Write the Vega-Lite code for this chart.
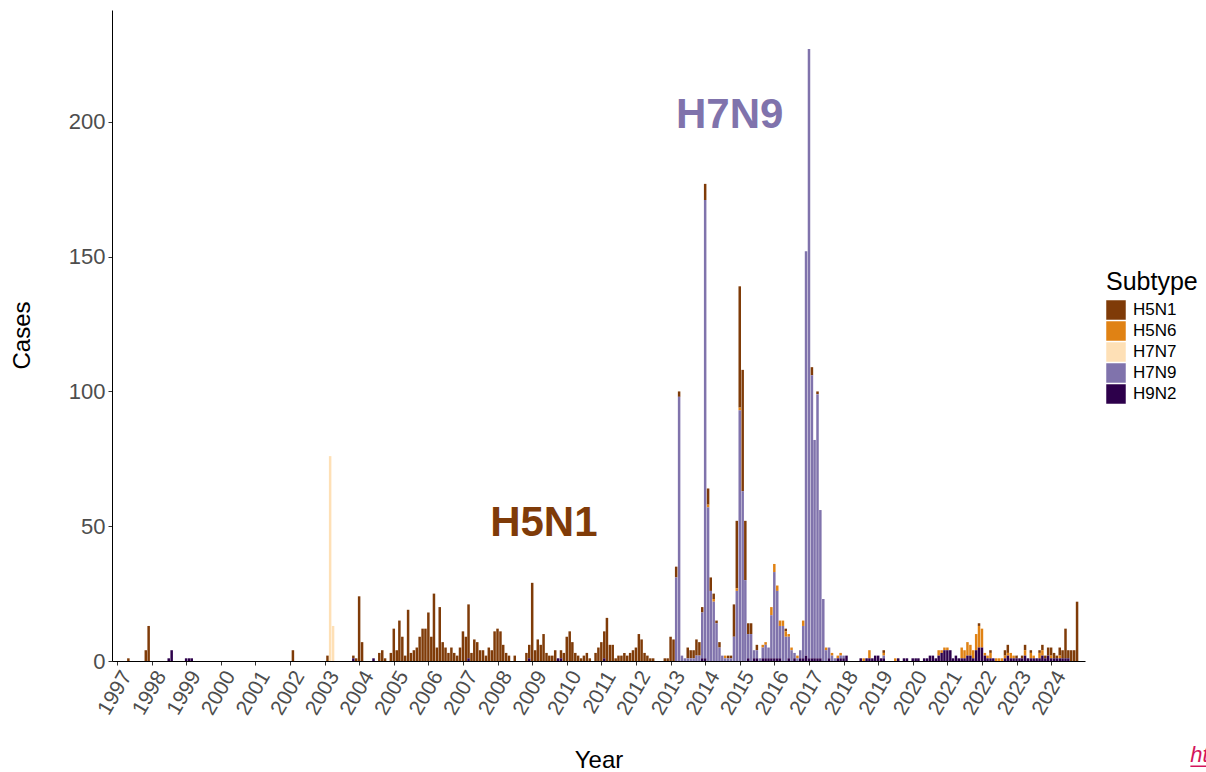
{
"$schema": "https://vega.github.io/schema/vega-lite/v6.json",
"width": 973, "height": 651,
"autosize": {"type": "none"},
"padding": {"left": 112, "top": 10, "right": 121, "bottom": 111},
"background": "white",
"config": {"font": "Liberation Sans", "view": {"stroke": null},
  "axis": {"grid": false, "domainColor": "black", "domainWidth": 1, "tickColor": "#333333", "tickSize": 4, "labelColor": "#4d4d4d", "labelFontSize": 21, "titleFontSize": 24, "titleFontWeight": "normal", "titleColor": "black", "labelFont": "Liberation Sans", "titleFont": "Liberation Sans"}},
"datasets": {
 "monthly": [
  {"m":"1997-05-01","H5N1":1},{"m":"1997-11-01","H5N1":4},{"m":"1997-12-01","H5N1":13},
  {"m":"1998-07-01","H9N2":1},{"m":"1998-08-01","H9N2":4},
  {"m":"1999-01-01","H9N2":1},{"m":"1999-02-01","H9N2":1},{"m":"1999-03-01","H9N2":1},
  {"m":"2002-02-01","H5N1":4},
  {"m":"2003-02-01","H5N1":2},{"m":"2003-03-01","H7N7":76},{"m":"2003-04-01","H7N7":13},{"m":"2003-11-01","H9N2":1,"H5N1":1},{"m":"2003-12-01","H5N1":1},
  {"m":"2004-01-01","H5N1":24},{"m":"2004-02-01","H5N1":7},{"m":"2004-06-01","H9N2":1},{"m":"2004-08-01","H5N1":3},{"m":"2004-09-01","H5N1":4},{"m":"2004-10-01","H5N1":1},{"m":"2004-12-01","H5N1":3},
  {"m":"2005-01-01","H5N1":12},{"m":"2005-02-01","H5N1":4},{"m":"2005-03-01","H5N1":15},{"m":"2005-04-01","H5N1":9},{"m":"2005-05-01","H5N1":2},{"m":"2005-06-01","H5N1":19},{"m":"2005-07-01","H5N1":3},{"m":"2005-08-01","H5N1":4},{"m":"2005-09-01","H5N1":5},{"m":"2005-10-01","H5N1":9},{"m":"2005-11-01","H5N1":12},{"m":"2005-12-01","H5N1":12},
  {"m":"2006-01-01","H5N1":18},{"m":"2006-02-01","H5N1":9},{"m":"2006-03-01","H5N1":25},{"m":"2006-04-01","H5N1":5},{"m":"2006-05-01","H5N1":20},{"m":"2006-06-01","H5N1":7},{"m":"2006-07-01","H5N1":5},{"m":"2006-08-01","H5N1":3},{"m":"2006-09-01","H5N1":5},{"m":"2006-10-01","H5N1":3},{"m":"2006-11-01","H5N1":2},{"m":"2006-12-01","H5N1":5},
  {"m":"2007-01-01","H5N1":11},{"m":"2007-02-01","H5N1":9},{"m":"2007-03-01","H5N1":20,"H9N2":1},{"m":"2007-04-01","H5N1":3},{"m":"2007-05-01","H5N1":8},{"m":"2007-06-01","H5N1":7},{"m":"2007-07-01","H5N1":4},{"m":"2007-08-01","H5N1":4},{"m":"2007-09-01","H5N1":2},{"m":"2007-10-01","H5N1":5},{"m":"2007-11-01","H5N1":4},{"m":"2007-12-01","H5N1":11},
  {"m":"2008-01-01","H5N1":12},{"m":"2008-02-01","H5N1":11},{"m":"2008-03-01","H5N1":6},{"m":"2008-04-01","H5N1":3},{"m":"2008-05-01","H5N1":2},{"m":"2008-07-01","H5N1":2},{"m":"2008-11-01","H5N1":3},{"m":"2008-12-01","H5N1":5,"H9N2":1},
  {"m":"2009-01-01","H5N1":29},{"m":"2009-02-01","H5N1":4},{"m":"2009-03-01","H5N1":8},{"m":"2009-04-01","H5N1":6},{"m":"2009-05-01","H5N1":10},{"m":"2009-06-01","H5N1":3},{"m":"2009-07-01","H5N1":2},{"m":"2009-08-01","H5N1":2},{"m":"2009-09-01","H5N1":4},{"m":"2009-10-01","H9N2":1},{"m":"2009-11-01","H5N1":3,"H9N2":1},{"m":"2009-12-01","H5N1":3},
  {"m":"2010-01-01","H5N1":9},{"m":"2010-02-01","H5N1":11},{"m":"2010-03-01","H5N1":7},{"m":"2010-04-01","H5N1":3},{"m":"2010-05-01","H5N1":2},{"m":"2010-06-01","H5N1":1},{"m":"2010-07-01","H5N1":2},{"m":"2010-08-01","H5N1":3},{"m":"2010-09-01","H5N1":1},{"m":"2010-11-01","H5N1":3},{"m":"2010-12-01","H5N1":5},
  {"m":"2011-01-01","H5N1":7},{"m":"2011-02-01","H5N1":10,"H9N2":1},{"m":"2011-03-01","H5N1":16},{"m":"2011-04-01","H5N1":6},{"m":"2011-05-01","H5N1":6},{"m":"2011-06-01","H5N1":1},{"m":"2011-07-01","H5N1":2},{"m":"2011-08-01","H5N1":2},{"m":"2011-09-01","H5N1":3},{"m":"2011-10-01","H5N1":2},{"m":"2011-11-01","H5N1":3},{"m":"2011-12-01","H5N1":4},
  {"m":"2012-01-01","H5N1":5},{"m":"2012-02-01","H5N1":10},{"m":"2012-03-01","H5N1":8},{"m":"2012-04-01","H5N1":3},{"m":"2012-05-01","H5N1":2},{"m":"2012-06-01","H5N1":1},{"m":"2012-07-01","H5N1":1},{"m":"2012-11-01","H5N1":1},{"m":"2012-12-01","H5N1":1},
  {"m":"2013-01-01","H5N1":9},{"m":"2013-02-01","H5N1":8},{"m":"2013-03-01","H5N1":4,"H7N9":31},{"m":"2013-04-01","H5N1":2,"H7N9":98},{"m":"2013-05-01","H7N9":2},{"m":"2013-06-01","H7N9":1},{"m":"2013-07-01","H5N1":4,"H7N9":1},{"m":"2013-08-01","H5N1":3,"H7N9":1},{"m":"2013-09-01","H5N1":3,"H7N9":1},{"m":"2013-10-01","H5N1":6,"H7N9":2},{"m":"2013-11-01","H5N1":5,"H7N9":2},{"m":"2013-12-01","H5N1":2,"H7N9":17,"H9N2":1},
  {"m":"2014-01-01","H5N1":6,"H7N9":170,"H9N2":1},{"m":"2014-02-01","H5N1":6,"H5N6":1,"H7N9":57},{"m":"2014-03-01","H5N1":5,"H7N9":26},{"m":"2014-04-01","H5N1":2,"H5N6":1,"H7N9":22},{"m":"2014-05-01","H5N1":1,"H7N9":14},{"m":"2014-06-01","H5N1":2,"H7N9":5},{"m":"2014-07-01","H7N9":2},{"m":"2014-08-01","H5N6":1,"H7N9":1},{"m":"2014-09-01","H5N1":1,"H7N9":1},{"m":"2014-10-01","H5N1":1,"H7N9":1},{"m":"2014-11-01","H5N1":12,"H7N9":9},{"m":"2014-12-01","H5N1":25,"H5N6":1,"H7N9":26},
  {"m":"2015-01-01","H5N1":45,"H5N6":1,"H7N9":93},{"m":"2015-02-01","H5N1":45,"H7N9":63},{"m":"2015-03-01","H5N1":22,"H7N9":30},{"m":"2015-04-01","H5N1":4,"H7N9":9,"H9N2":1},{"m":"2015-05-01","H5N1":4,"H7N9":10},{"m":"2015-06-01","H7N9":3,"H9N2":1},{"m":"2015-07-01","H5N1":2,"H7N9":3,"H9N2":1},{"m":"2015-08-01","H7N9":1},{"m":"2015-09-01","H7N9":4,"H5N6":1,"H9N2":1},{"m":"2015-10-01","H7N9":5,"H5N6":1,"H9N2":1},{"m":"2015-11-01","H7N9":4,"H9N2":1},{"m":"2015-12-01","H7N9":16,"H5N6":3,"H9N2":1},
  {"m":"2016-01-01","H7N9":32,"H5N6":3,"H9N2":1},{"m":"2016-02-01","H7N9":25,"H5N6":2,"H9N2":1},{"m":"2016-03-01","H7N9":12,"H5N6":2,"H9N2":1},{"m":"2016-04-01","H7N9":13,"H5N6":2},{"m":"2016-05-01","H7N9":9,"H5N6":2,"H5N1":1},{"m":"2016-06-01","H7N9":8,"H5N6":1,"H9N2":1},{"m":"2016-07-01","H7N9":4,"H5N6":1},{"m":"2016-08-01","H7N9":2,"H9N2":1},{"m":"2016-09-01","H7N9":1,"H5N6":1},{"m":"2016-10-01","H7N9":3,"H9N2":1},{"m":"2016-11-01","H7N9":12,"H5N6":2,"H9N2":1},{"m":"2016-12-01","H7N9":150,"H9N2":2},
  {"m":"2017-01-01","H7N9":226,"H9N2":1},{"m":"2017-02-01","H5N1":3,"H7N9":105,"H9N2":1},{"m":"2017-03-01","H7N9":81,"H9N2":1},{"m":"2017-04-01","H5N1":1,"H7N9":98,"H9N2":1},{"m":"2017-05-01","H7N9":55,"H9N2":1},{"m":"2017-06-01","H7N9":23},{"m":"2017-07-01","H7N9":4,"H5N6":1},{"m":"2017-08-01","H7N9":4,"H9N2":1},{"m":"2017-09-01","H7N9":2,"H5N6":1},{"m":"2017-10-01","H7N9":1},{"m":"2017-11-01","H5N6":1,"H9N2":1},{"m":"2017-12-01","H7N9":1,"H5N6":1,"H9N2":1},
  {"m":"2018-01-01","H7N9":1,"H9N2":1},{"m":"2018-02-01","H9N2":2},{"m":"2018-07-01","H9N2":1},{"m":"2018-08-01","H5N6":1},{"m":"2018-09-01","H9N2":1},{"m":"2018-10-01","H5N6":3,"H9N2":1},{"m":"2018-11-01","H9N2":1},{"m":"2018-12-01","H9N2":2},
  {"m":"2019-01-01","H9N2":2},{"m":"2019-02-01","H9N2":1},{"m":"2019-03-01","H5N1":1,"H5N6":1,"H7N9":1,"H9N2":1},{"m":"2019-07-01","H5N6":1},{"m":"2019-08-01","H9N2":1},{"m":"2019-10-01","H9N2":1},{"m":"2019-11-01","H9N2":1},
  {"m":"2020-01-01","H9N2":1},{"m":"2020-02-01","H9N2":1},{"m":"2020-03-01","H9N2":1},{"m":"2020-05-01","H9N2":1},{"m":"2020-06-01","H9N2":1},{"m":"2020-07-01","H9N2":2},{"m":"2020-08-01","H9N2":2},{"m":"2020-09-01","H9N2":1},{"m":"2020-10-01","H9N2":2,"H5N6":2},{"m":"2020-11-01","H9N2":3,"H5N6":1},{"m":"2020-12-01","H9N2":4,"H5N6":1},
  {"m":"2021-01-01","H9N2":4,"H5N6":1},{"m":"2021-02-01","H9N2":4},{"m":"2021-03-01","H9N2":1},{"m":"2021-04-01","H9N2":2},{"m":"2021-05-01","H9N2":1},{"m":"2021-06-01","H9N2":1,"H5N6":4},{"m":"2021-07-01","H9N2":1,"H5N6":3},{"m":"2021-08-01","H9N2":2,"H5N6":5},{"m":"2021-09-01","H9N2":2,"H5N6":4},{"m":"2021-10-01","H9N2":1,"H5N6":3},{"m":"2021-11-01","H9N2":4,"H5N6":6},{"m":"2021-12-01","H9N2":5,"H5N6":8,"H5N1":1},
  {"m":"2022-01-01","H9N2":5,"H5N6":7},{"m":"2022-02-01","H9N2":2,"H5N6":1},{"m":"2022-03-01","H9N2":1,"H5N6":1},{"m":"2022-04-01","H9N2":1,"H5N6":2,"H5N1":1},{"m":"2022-05-01","H9N2":1},{"m":"2022-06-01","H5N6":1},{"m":"2022-07-01","H5N6":1},{"m":"2022-08-01","H5N6":1},{"m":"2022-09-01","H9N2":1,"H5N6":1,"H5N1":2},{"m":"2022-10-01","H9N2":2,"H5N6":1,"H5N1":3},{"m":"2022-11-01","H9N2":1,"H5N6":2},{"m":"2022-12-01","H9N2":1,"H5N6":1},
  {"m":"2023-01-01","H9N2":1,"H5N1":1},{"m":"2023-02-01","H9N2":1},{"m":"2023-03-01","H9N2":1,"H5N1":1},{"m":"2023-04-01","H9N2":2,"H5N6":2,"H5N1":2},{"m":"2023-05-01","H9N2":1},{"m":"2023-06-01","H9N2":1,"H5N6":2,"H5N1":1},{"m":"2023-07-01","H9N2":1,"H5N6":1},{"m":"2023-08-01","H9N2":1},{"m":"2023-09-01","H9N2":1,"H5N6":2,"H5N1":1},{"m":"2023-10-01","H9N2":2,"H5N6":2,"H5N1":2},{"m":"2023-11-01","H9N2":1,"H5N1":1},{"m":"2023-12-01","H9N2":2,"H5N1":3},
  {"m":"2024-01-01","H9N2":1,"H5N6":1,"H5N1":3},{"m":"2024-02-01","H9N2":1,"H5N1":2},{"m":"2024-03-01","H9N2":1,"H5N1":1},{"m":"2024-04-01","H9N2":1,"H5N6":1,"H5N1":3},{"m":"2024-05-01","H9N2":1,"H5N1":3},{"m":"2024-06-01","H9N2":1,"H5N1":11},{"m":"2024-07-01","H9N2":1,"H5N1":3},{"m":"2024-08-01","H5N1":4},{"m":"2024-09-01","H5N1":4},{"m":"2024-10-01","H5N1":22}
 ],
 "labels": [
  {"m":"2014-09-17","v":202.6,"subtype":"H7N9"},
  {"m":"2009-05-04","v":51.2,"subtype":"H5N1"}
 ],
 "link": [
  {"m":"2028-01-10","m2":"2029-06-01","v":-37.5,"v2":-39,"t":"https://www.who.int"}
 ]
},
"encoding": {
  "x": {"field": "m", "type": "temporal",
    "scale": {"type": "utc", "domain": [{"year": 1997, "month": 1, "date": 1, "utc": true}, {"year": 2024, "month": 11, "date": 1, "utc": true}]},
    "axis": {"title": "Year", "format": "%Y", "tickCount": {"interval": "year", "step": 1}, "labelAngle": -60, "labelAlign": "right", "labelBaseline": "top", "labelPadding": 2, "labelFlush": false, "labelOverlap": false, "labelBound": false, "titleY": 99, "titleBaseline": "middle"}},
  "y": {"type": "quantitative", "scale": {"domain": [0, 241.5], "nice": false},
    "axis": {"title": "Cases", "values": [0, 50, 100, 150, 200], "labelFontSize": 22, "labelPadding": 3, "titleX": -90, "titleY": 325, "titleAlign": "center", "titleBaseline": "middle"}},
  "color": {"field": "subtype", "type": "nominal",
    "scale": {"domain": ["H5N1", "H5N6", "H7N7", "H7N9", "H9N2"], "range": ["#7f3b08", "#e08214", "#fee0b6", "#8073ac", "#2d004b"]},
    "legend": {"title": "Subtype", "orient": "none", "legendX": 994, "legendY": 260, "titleFontSize": 25, "titleFontWeight": "normal", "titleColor": "black", "titleFont": "Liberation Sans", "labelFont": "Liberation Sans", "labelFontSize": 17, "labelColor": "black", "symbolType": "square", "symbolSize": 380, "symbolStrokeWidth": 0, "symbolOpacity": 1, "rowPadding": 1, "labelOffset": 7, "titlePadding": 5}}
},
"layer": [
  {"data": {"name": "monthly"},
   "transform": [{"fold": ["H5N1", "H5N6", "H7N7", "H7N9", "H9N2"], "as": ["subtype", "cases"]}, {"filter": "isValid(datum.cases) && datum.cases > 0"}],
   "mark": {"type": "bar", "size": 2.5},
   "encoding": {"y": {"field": "cases", "type": "quantitative", "stack": "zero"}, "order": {"field": "subtype", "sort": "descending"}}},
  {"data": {"name": "labels"},
   "mark": {"type": "text", "fontSize": 42, "fontWeight": "bold", "font": "Liberation Sans", "align": "center", "baseline": "middle"},
   "encoding": {"y": {"field": "v", "type": "quantitative"}, "text": {"field": "subtype"}}},
  {"data": {"name": "link"},
   "mark": {"type": "text", "fontSize": 22, "fontStyle": "italic", "font": "Liberation Sans", "align": "left", "baseline": "alphabetic", "clip": false},
   "encoding": {"y": {"field": "v", "type": "quantitative"}, "text": {"field": "t"}, "color": {"value": "#d4145a"}}},
  {"data": {"name": "link"},
   "mark": {"type": "rule", "strokeWidth": 1.5, "clip": false},
   "encoding": {"x2": {"field": "m2"}, "y": {"field": "v2", "type": "quantitative"}, "color": {"value": "#d4145a"}}}
]
}
